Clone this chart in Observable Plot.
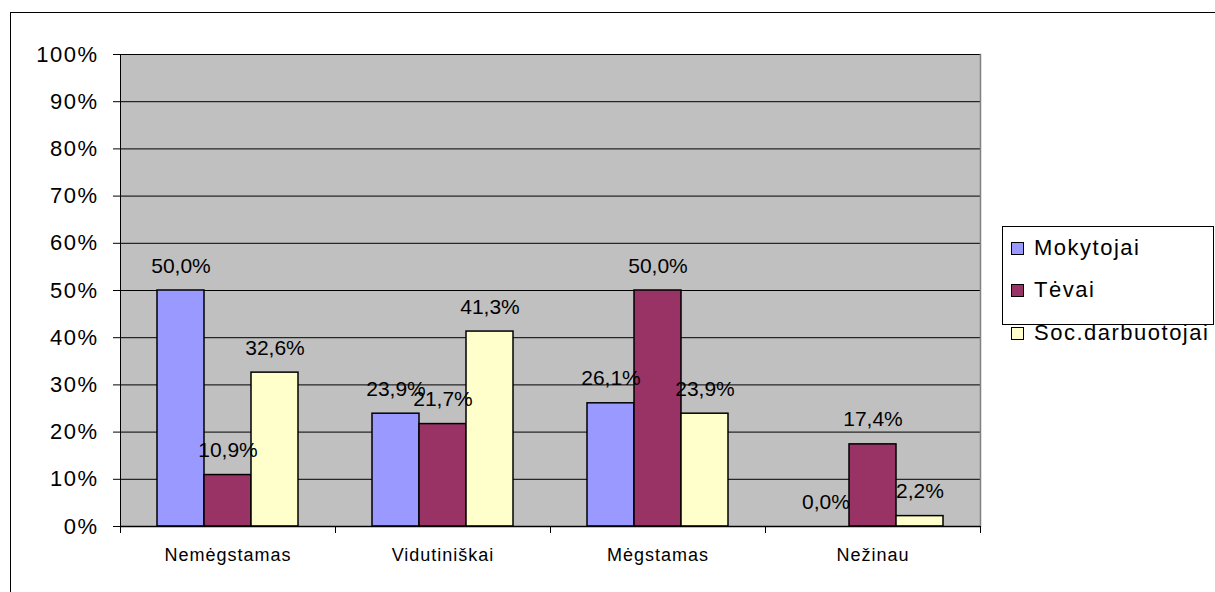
<!DOCTYPE html>
<html>
<head>
<meta charset="utf-8">
<script src="https://cdn.jsdelivr.net/npm/d3@7"></script>
<script src="https://cdn.jsdelivr.net/npm/@observablehq/plot@0.6"></script>
<style>
  body { margin: 0; background: #fff; overflow: hidden; font-family: "Liberation Sans", Arial, sans-serif; }
  #border { position: absolute; left: 10px; top: 12px; width: 1300px; height: 700px; border: 1.5px solid #000; box-sizing: border-box; }
  #chart { position: absolute; left: 0; top: 0; }
  #legend { position: absolute; left: 1002px; top: 226px; width: 212px; height: 99px; border: 1px solid #000; box-sizing: border-box; background: #fff; }
  .item { position: absolute; left: 8px; height: 26px; display: flex; align-items: center; font-size: 22px; letter-spacing: 1.5px; color: #000; }
  .swatch { width: 13px; height: 13px; border: 1.5px solid #000; box-sizing: border-box; margin-right: 10px; }
  #chart g[aria-label="y-axis tick label"] text { letter-spacing: 1.5px; }
  #chart g[aria-label="fx-axis tick label"] text { letter-spacing: 1px; }
</style>
</head>
<body>
<div id="border"></div>
<div id="chart"></div>
<div id="legend"></div>
<script>
// Answer categories and respondent groups
const categories = ["Nemėgstamas", "Vidutiniškai", "Mėgstamas", "Nežinau"];
const seriesNames = ["Mokytojai", "Tėvai", "Soc.darbuotojai"];
const seriesColors = ["#9999FF", "#993366", "#FFFFCC"];

// Shares in percent, one value per category
const mokytojai = [50.0, 23.9, 26.1, 0.0];
const tevai = [10.9, 21.7, 50.0, 17.4];
const socDarbuotojai = [32.6, 41.3, 23.9, 2.2];

const yTicks = [0, 10, 20, 30, 40, 50, 60, 70, 80, 90, 100];

const rows = [];
[mokytojai, tevai, socDarbuotojai].forEach((values, s) =>
  values.forEach((v, c) => rows.push({category: categories[c], series: seriesNames[s], value: v}))
);

const fmt = v => v.toFixed(1).replace(".", ",") + "%";

const W = 1215, H = 592;
const mL = 120, mR = 235, mT = 54, mB = 66;
const halfBand = (W - mL - mR) / categories.length / 2;
const lastCat = categories[categories.length - 1];

const chart = Plot.plot({
  width: W,
  height: H,
  marginTop: mT,
  marginBottom: mB,
  marginLeft: mL,
  marginRight: mR,
  style: {fontFamily: "'Liberation Sans', Arial, sans-serif", color: "#000", background: "transparent", overflow: "visible"},
  fx: {domain: categories, padding: 0, label: null},
  x: {domain: seriesNames, paddingInner: 0, paddingOuter: 0.75, axis: null},
  y: {domain: [0, 100], label: null},
  color: {domain: seriesNames, range: seriesColors},
  marks: [
    // gray plot area spanning all category panels
    Plot.frame({fill: "#C0C0C0", stroke: null, facet: "super"}),
    Plot.gridY(yTicks, {stroke: "#000", strokeOpacity: 1, strokeWidth: 1}),
    // plot area side borders
    Plot.frame({anchor: "right", stroke: "#808080", strokeWidth: 1.5, facet: "super"}),
    Plot.frame({anchor: "left", stroke: "#000", strokeWidth: 1, facet: "super"}),
    Plot.axisY(yTicks, {anchor: "left", tickSize: 7, tickPadding: 15, tickFormat: d => d + "%", fontSize: 22, label: null}),
    Plot.barY(rows, {fx: "category", x: "series", y: "value", fill: "series", stroke: "#000", strokeWidth: 1.5}),
    Plot.ruleY([0], {stroke: "#000", strokeWidth: 1.5}),
    Plot.text(rows, {fx: "category", x: "series", y: "value", text: d => fmt(d.value), lineAnchor: "bottom", dy: -18, fontSize: 21, fill: "#000"}),
    Plot.axisFx({anchor: "bottom", tickSize: 0, tickPadding: 22, fontSize: 18, label: null}),
    Plot.axisFx(categories, {anchor: "bottom", tickSize: 7, fill: "none", dx: -halfBand, label: null}),
    Plot.axisFx([lastCat], {anchor: "bottom", tickSize: 7, fill: "none", dx: halfBand, label: null})
  ]
});
document.getElementById("chart").appendChild(chart);

// Legend
const legend = document.getElementById("legend");
const rowTops = [8, 50, 93];
seriesNames.forEach((name, i) => {
  const item = document.createElement("div");
  item.className = "item";
  item.style.top = rowTops[i] + "px";
  const sw = document.createElement("span");
  sw.className = "swatch";
  sw.style.background = seriesColors[i];
  item.appendChild(sw);
  item.appendChild(document.createTextNode(name));
  legend.appendChild(item);
});
</script>
</body>
</html>
